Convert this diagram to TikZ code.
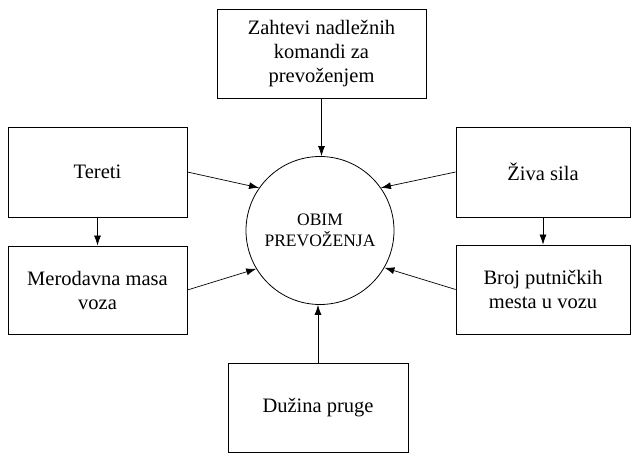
\documentclass[tikz,border=0pt]{standalone}
\usepackage{fontspec}
\setmainfont{Liberation Serif}
\usetikzlibrary{arrows.meta}
\tikzset{
  kutija/.style={draw,line width=0.8pt,inner sep=0pt,align=center,
    font=\fontsize{20.5}{24}\selectfont},
  krug/.style={draw,circle,line width=0.8pt,inner sep=0pt,align=center,
    minimum size=148pt,font=\fontsize{17.5}{21}\selectfont},
  strelica/.style={->,>={Latex[length=10pt,width=7pt]},line width=0.7pt}
}
\begin{document}
\begin{tikzpicture}[x=1pt,y=-1pt]
\useasboundingbox (0,0) rectangle (631,454);
\node[krug] (O) at (320,230.5) {OBIM\\PREVOŽENJA};
\node[kutija,minimum width=209pt,minimum height=89pt] (Z) at (321.5,53.5) {Zahtevi nadležnih\\komandi za\\prevoženjem};
\node[kutija,minimum width=179pt,minimum height=90pt] (T) at (97.5,172) {Tereti};
\node[kutija,minimum width=179pt,minimum height=88pt] (M) at (97.5,290) {Merodavna masa\\voza};
\node[kutija,minimum width=174pt,minimum height=90pt] (S) at (543,172) {Živa sila};
\node[kutija,minimum width=174pt,minimum height=89pt] (B) at (543,289.5) {Broj putničkih\\mesta u vozu};
\node[kutija,minimum width=180pt,minimum height=89pt] (D) at (318,407.5) {Dužina pruge};
\draw[strelica] (Z.south) -- (Z.south |- O.north);
\draw[strelica] (T.east) -- (O.145);
\draw[strelica] (M.east) -- (O.211);
\draw[strelica] (S.west) -- (O.35);
\draw[strelica] (B.west) -- (O.330);
\draw[strelica] (D.north) -- (D.north |- O.south);
\draw[strelica] (T) -- (M);
\draw[strelica] (S) -- (B);
\end{tikzpicture}
\end{document}
